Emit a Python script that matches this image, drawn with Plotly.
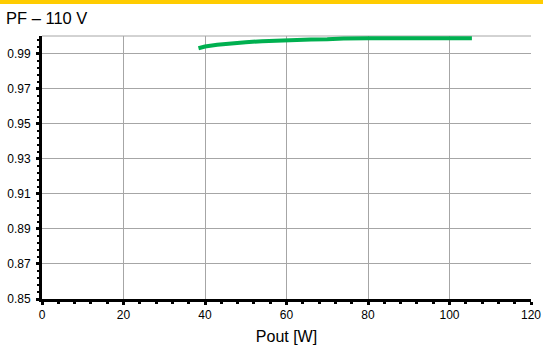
import plotly.graph_objects as go

pout_w = [38.4, 40.0, 43.0, 46.0, 50.0, 54.0, 58.0, 62.0, 66.0, 70.0, 74.0, 80.0, 88.0, 96.0, 105.5]
pf = [0.9930, 0.9940, 0.9950, 0.9958, 0.9965, 0.9970, 0.9975, 0.9978, 0.9980, 0.9981, 0.9986, 0.9987, 0.9987, 0.9987, 0.9987]

x_ticks = [0, 20, 40, 60, 80, 100, 120]
y_ticks = [0.85, 0.87, 0.89, 0.91, 0.93, 0.95, 0.97, 0.99]

fig = go.Figure()
fig.add_trace(go.Scatter(x=pout_w, y=pf, mode="lines",
                         line=dict(color="#00B050", width=4), showlegend=False))

font = "Liberation Sans, Arial, sans-serif"
fig.update_layout(
    width=543, height=350,
    margin=dict(l=42, r=12, t=36, b=51),
    paper_bgcolor="white", plot_bgcolor="white",
    font=dict(family=font, color="black"),
    xaxis=dict(range=[0, 120], tickvals=x_ticks, ticktext=[str(v) for v in x_ticks],
               showgrid=True, gridcolor="#A6A6A6", gridwidth=1, automargin=False,
               showline=True, linecolor="black", linewidth=3,
               ticks="outside", ticklen=3, tickwidth=3, tickcolor="black",
               minor=dict(dtick=4, ticks="outside", ticklen=2, tickwidth=3, tickcolor="black", showgrid=False),
               tickfont=dict(size=12), zeroline=False,
               title=dict(text="Pout [W]", font=dict(size=16), standoff=10)),
    yaxis=dict(range=[0.85, 1.0], tickvals=y_ticks, ticktext=["%.2f" % v for v in y_ticks],
               showgrid=True, gridcolor="#A6A6A6", gridwidth=1, automargin=False,
               showline=True, linecolor="black", linewidth=3,
               ticks="outside", ticklen=3, tickwidth=3, tickcolor="black",
               ticklabelstandoff=3,
               minor=dict(dtick=0.004, tick0=0.85, ticks="outside", ticklen=2, tickwidth=2, tickcolor="black", showgrid=False),
               tickfont=dict(size=12), zeroline=False),
    shapes=[
        dict(type="line", xref="paper", yref="paper", x0=0, x1=1, y0=1, y1=1,
             line=dict(color="#A6A6A6", width=1), layer="below"),
        dict(type="rect", xref="paper", yref="paper", x0=-42/489, x1=1 + 12/489,
             y0=1 + 32/263, y1=1 + 36/263, line=dict(width=0), fillcolor="#FFCC00"),
    ],
    annotations=[dict(text="PF – 110 V", xref="paper", yref="paper",
                      x=-38/489, y=1 + 7/263, xanchor="left", yanchor="bottom",
                      showarrow=False, font=dict(size=16.5, family=font, color="black"))],
)

fig.write_html("out.html")
